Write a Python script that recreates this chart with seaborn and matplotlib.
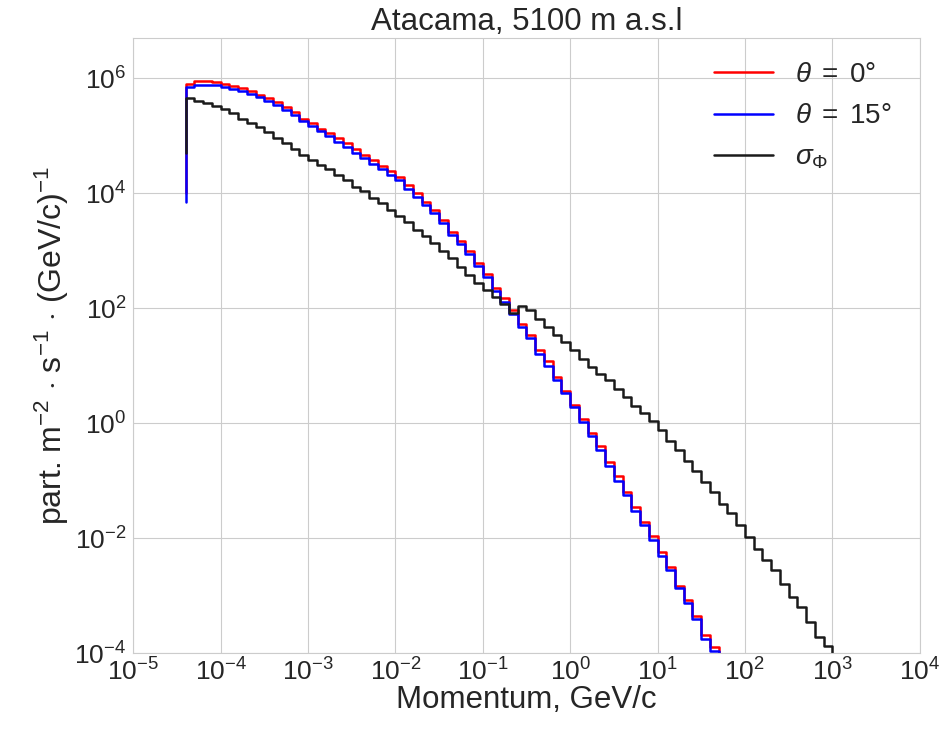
import numpy as np
import pandas as pd
import matplotlib
matplotlib.use("Agg")
import matplotlib.pyplot as plt
import seaborn as sns

# momentum bins: 10 per decade, starting at 10^-4.4
bin_edges = np.logspace(-4.4, 3.1, 76)

# flux per bin, part. m^-2 s^-1 (GeV/c)^-1
flux_theta0 = [
    7.9e5, 9.0e5, 8.9e5, 8.6e5, 8.1e5, 7.4e5, 6.8e5, 6.0e5, 5.2e5, 4.6e5,
    3.9e5, 3.2e5, 2.6e5, 2.0e5, 1.7e5, 1.3e5, 1.1e5, 9.1e4, 7.4e4, 5.9e4,
    4.7e4, 3.8e4, 3.0e4, 2.4e4, 1.9e4, 1.4e4, 1.0e4, 7.2e3, 5.1e3, 3.4e3,
    2.1e3, 1.5e3, 1.0e3, 620, 400, 230, 150, 93, 54, 34,
    19, 12, 6.4, 3.7, 2.1, 1.2, 0.68, 0.40, 0.21, 0.12,
    0.065, 0.035, 0.019, 0.011, 5.8e-3, 3.2e-3, 1.5e-3, 8.5e-4, 4.5e-4, 2.1e-4,
    1.3e-4,
]
flux_theta15 = [
    7.2e5, 7.7e5, 7.8e5, 7.6e5, 7.2e5, 6.6e5, 6.0e5, 5.4e5, 4.7e5, 4.1e5,
    3.5e5, 2.8e5, 2.3e5, 1.8e5, 1.5e5, 1.2e5, 9.8e4, 7.9e4, 6.5e4, 5.1e4,
    4.1e4, 3.3e4, 2.6e4, 2.1e4, 1.7e4, 1.2e4, 8.7e3, 6.2e3, 4.5e3, 3.0e3,
    1.9e3, 1.3e3, 870, 540, 350, 200, 130, 81, 47, 30,
    16, 10, 5.6, 3.3, 1.9, 1.05, 0.59, 0.35, 0.18, 0.10,
    0.056, 0.030, 0.017, 9.3e-3, 5.0e-3, 2.8e-3, 1.35e-3, 7.4e-4, 3.9e-4, 1.8e-4,
    1.1e-4,
]
flux_sigma = [
    4.5e5, 4.1e5, 3.7e5, 3.3e5, 2.9e5, 2.5e5, 2.0e5, 1.7e5, 1.4e5, 1.15e5,
    9.3e4, 7.4e4, 5.9e4, 4.7e4, 3.8e4, 3.1e4, 2.6e4, 2.1e4, 1.7e4, 1.3e4,
    1.1e4, 8.3e3, 6.7e3, 5.1e3, 4.0e3, 3.2e3, 2.3e3, 1.8e3, 1.35e3, 1.0e3,
    740, 525, 380, 280, 210, 160, 120, 83, 110, 93,
    66, 48, 34, 26, 19, 13, 9.5, 7.2, 5.6, 4.0,
    2.9, 2.0, 1.5, 1.1, 0.78, 0.50, 0.35, 0.22, 0.15, 0.095,
    0.063, 0.040, 0.027, 0.017, 0.0105, 0.0066, 0.0042, 0.0028, 0.0016, 9.5e-4,
    6.5e-4, 3.5e-4, 1.9e-4, 1.35e-4,
]
# value at the first edge (bottom of the opening vertical step)
start_theta0, start_theta15, start_sigma = 1.0e4, 7.0e3, 5.0e4
below_axis = 1e-6

series = [
    (r"$\theta\,$ = $\,$0°", flux_theta0, start_theta0, "red"),
    (r"$\theta\,$ = $\,$15°", flux_theta15, start_theta15, "blue"),
    (r"$\sigma_\Phi$", flux_sigma, start_sigma, "#1a1a1a"),
]

sns.set_style("whitegrid")
plt.rcParams["font.family"] = ["Liberation Sans", "DejaVu Sans"]
plt.rcParams["mathtext.fontset"] = "custom"
plt.rcParams["mathtext.rm"] = "Liberation Sans"
plt.rcParams["mathtext.it"] = "Liberation Sans:italic"
plt.rcParams["mathtext.bf"] = "Liberation Sans:bold"

fig, ax = plt.subplots(figsize=(9.52, 7.34), dpi=100)
fig.subplots_adjust(left=0.14, right=0.966, top=0.948, bottom=0.11)

for label, vals, start, color in series:
    n = len(vals)
    df = pd.DataFrame({
        "momentum": bin_edges[:n + 2],
        "flux": [start] + list(vals) + [below_axis],
    })
    sns.lineplot(data=df, x="momentum", y="flux", ax=ax, color=color,
                 label=label, drawstyle="steps-pre", estimator=None,
                 errorbar=None, linewidth=1.8)

ax.set_xscale("log")
ax.set_yscale("log")
ax.set_xlim(1e-5, 1e4)
ax.set_ylim(1e-4, 5e6)
ax.set_xticks([10.0 ** k for k in range(-5, 5)])
ax.set_yticks([10.0 ** k for k in range(-4, 7, 2)])
ax.minorticks_off()
ax.tick_params(labelsize=19, colors=".15", length=0)
ax.tick_params(axis="x", pad=4)
ax.tick_params(axis="y", pad=5)

ax.set_title("Atacama, 5100 m a.s.l", fontsize=22.5, color=".15")
ax.set_xlabel("Momentum, GeV/c", fontsize=22.5, color=".15", labelpad=-1)
ax.set_ylabel(r"part. m$^{-2}$ $\cdot$ s$^{-1}$ $\cdot$ (GeV/c)$^{-1}$",
              fontsize=23, color=".15", labelpad=2)

ax.legend(loc="upper right", bbox_to_anchor=(1.01, 1.02), frameon=False,
          fontsize=20, labelspacing=0.55, handlelength=2.1,
          handletextpad=0.8, borderaxespad=0.9)

fig.savefig("out.png", dpi=100)
